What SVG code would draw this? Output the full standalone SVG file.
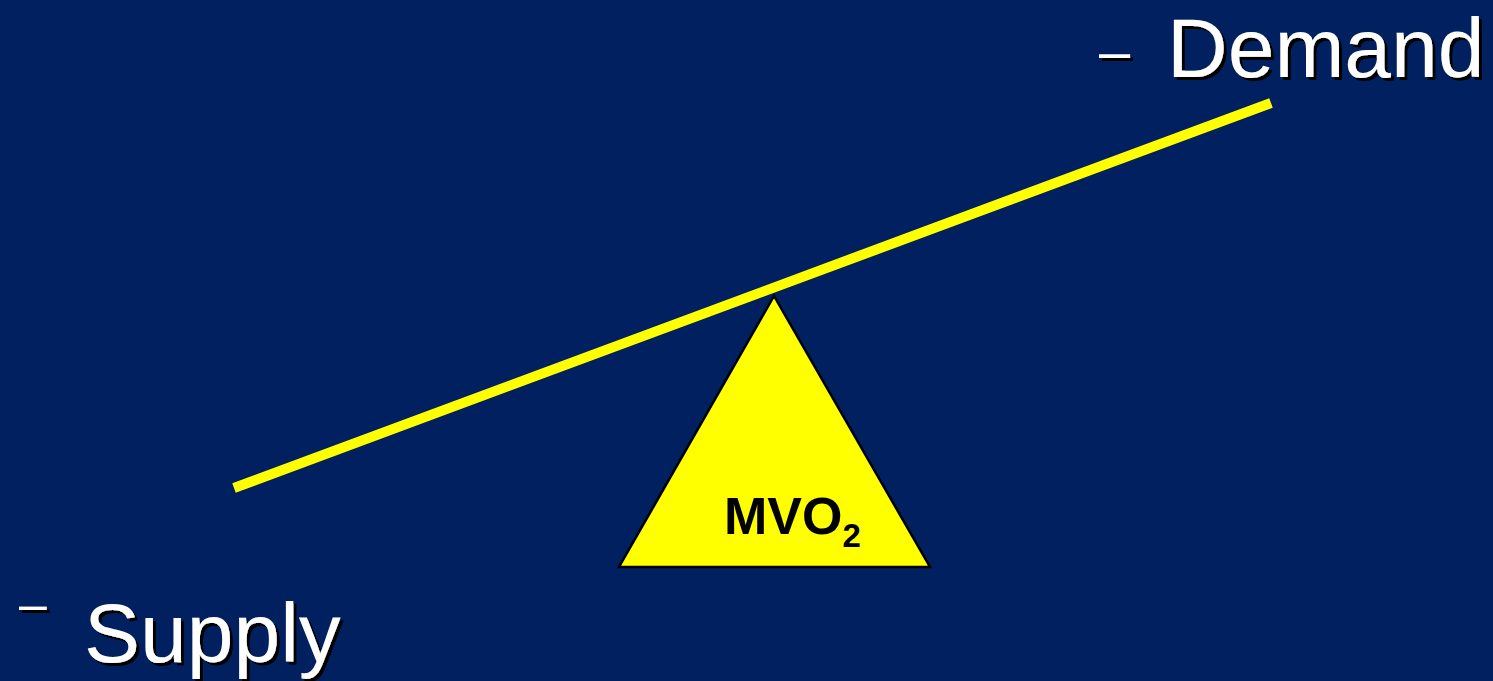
<svg xmlns="http://www.w3.org/2000/svg" width="1493" height="681" viewBox="0 0 1493 681">
<defs>
<filter id="sh" x="-10%" y="-10%" width="120%" height="130%">
<feDropShadow dx="3" dy="3" stdDeviation="0" flood-color="#000" flood-opacity="1"/>
</filter>
<style>
.lbl{font-family:"Liberation Sans",Arial,sans-serif;fill:#fff;filter:url(#sh)}
</style>
</defs>
<rect width="1493" height="681" fill="#002060"/>
<g id="connectors">
<line x1="234" y1="488" x2="1271" y2="103" stroke="#ffff00" stroke-width="10"/>
</g>
<g id="fulcrum">
<polygon points="774,296 619,567 930,567" fill="#ffff00" stroke="#000" stroke-width="2.5" stroke-linejoin="miter"/>
<text x="724" y="534" font-family="Liberation Sans,Arial,sans-serif" font-weight="bold" font-size="52" fill="#000">MVO<tspan font-size="33" dy="13">2</tspan></text>
</g>
<g id="demand">
<text class="lbl" x="1099" y="70" font-size="56">–</text>
<text class="lbl" x="1167" y="77" font-size="84">Demand</text>
</g>
<g id="supply">
<text class="lbl" x="19" y="621" font-size="50">–</text>
<text class="lbl" x="84" y="662" font-size="84">Supply</text>
</g>
</svg>
